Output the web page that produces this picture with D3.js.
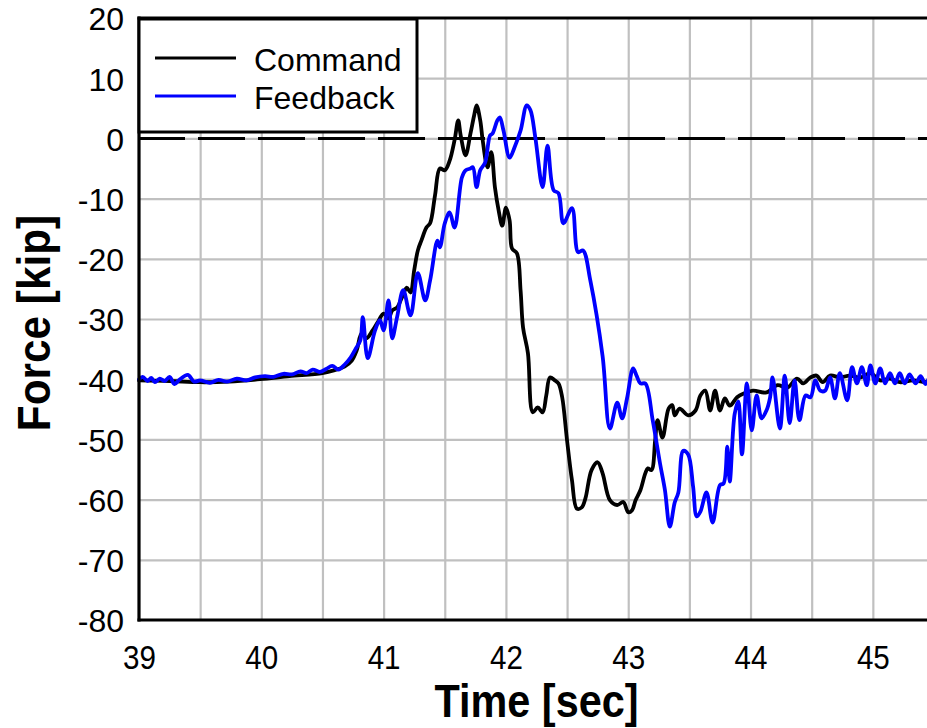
<!DOCTYPE html>
<html><head><meta charset="utf-8">
<script src="https://cdn.jsdelivr.net/npm/d3@7"></script>
<style>body{margin:0;background:#fff}svg{display:block}</style>
</head><body>
<svg id="chart" width="927" height="728"></svg>
<script>
// ---- data ----
const xTicks = [39, 40, 41, 42, 43, 44, 45];
const yTicks = [20, 10, 0, -10, -20, -30, -40, -50, -60, -70, -80];
const xGrid = [39.5, 40, 40.5, 41, 41.5, 42, 42.5, 43, 43.5, 44, 44.5, 45, 45.5];
const yGrid = [10, 0, -10, -20, -30, -40, -50, -60, -70];
const seriesNames = ["Command", "Feedback"];
const seriesColors = ["#000000", "#0000ff"];

const cmdTime = [39.00,39.25,39.50,39.74,39.99,40.23,40.50,40.60,40.68,40.74,40.78,40.82,40.86,40.91,40.95,41.00,41.04,41.07,41.11,41.15,41.19,41.22,41.25,41.28,41.31,41.35,41.38,41.42,41.46,41.50,41.54,41.58,41.61,41.63,41.67,41.71,41.74,41.76,41.79,41.81,41.85,41.88,41.91,41.94,41.97,42.00,42.03,42.05,42.09,42.12,42.14,42.18,42.22,42.26,42.30,42.33,42.36,42.40,42.43,42.46,42.50,42.54,42.58,42.62,42.65,42.70,42.75,42.79,42.85,42.91,42.96,43.00,43.03,43.06,43.10,43.14,43.16,43.19,43.22,43.24,43.28,43.33,43.36,43.38,43.42,43.49,43.55,43.59,43.63,43.67,43.71,43.75,43.79,43.83,43.89,43.94,44.02,44.13,44.22,44.30,44.38,44.43,44.49,44.54,44.59,44.65,44.73,44.81,44.90,44.98,45.06,45.14,45.22,45.33,45.44,45.50];
const cmdForce = [-40.2,-40.3,-40.5,-40.4,-40.0,-39.5,-39.0,-38.5,-37.9,-36.9,-35.2,-32.4,-33.2,-31.9,-30.6,-29.1,-29.9,-28.6,-28.1,-26.4,-24.8,-25.6,-21.9,-18.6,-16.9,-14.8,-14.1,-9.5,-5.0,-5.3,-3.7,-0.3,3.0,0.5,-2.8,0.8,3.8,5.5,3.0,-0.3,-4.8,-2.3,-8.1,-11.9,-14.5,-11.5,-13.6,-18.3,-19.1,-25.3,-31.4,-35.7,-45.5,-44.7,-45.5,-42.7,-39.7,-40.2,-40.7,-43.0,-50.2,-56.8,-61.5,-61.3,-59.8,-55.1,-53.8,-55.6,-60.1,-60.9,-60.4,-62.1,-61.8,-60.1,-58.4,-55.6,-54.8,-55.1,-50.2,-46.8,-49.7,-44.9,-44.3,-46.0,-44.9,-46.0,-45.2,-42.7,-41.9,-45.2,-41.9,-45.2,-43.2,-44.4,-43.0,-42.4,-41.9,-42.2,-41.0,-41.4,-39.9,-40.7,-39.7,-39.4,-40.5,-39.4,-39.7,-39.4,-39.7,-39.0,-40.2,-39.9,-40.5,-40.2,-40.5,-40.3];

const fbTime = [39.00,39.03,39.07,39.10,39.13,39.17,39.21,39.25,39.29,39.33,39.40,39.45,39.50,39.58,39.65,39.72,39.80,39.88,39.95,40.03,40.10,40.18,40.25,40.32,40.37,40.42,40.48,40.53,40.58,40.63,40.68,40.73,40.77,40.81,40.83,40.87,40.93,40.97,41.00,41.04,41.07,41.11,41.16,41.22,41.28,41.34,41.38,41.44,41.46,41.50,41.54,41.58,41.64,41.67,41.71,41.73,41.76,41.79,41.83,41.87,41.89,41.93,41.95,41.98,42.03,42.07,42.12,42.17,42.20,42.24,42.30,42.34,42.39,42.43,42.47,42.54,42.59,42.63,42.69,42.79,42.85,42.91,42.95,42.99,43.04,43.07,43.10,43.14,43.20,43.26,43.30,43.34,43.38,43.41,43.45,43.49,43.53,43.56,43.59,43.64,43.69,43.75,43.78,43.81,43.83,43.87,43.90,43.93,43.97,44.01,44.05,44.09,44.13,44.16,44.18,44.24,44.28,44.32,44.36,44.40,44.45,44.49,44.53,44.57,44.61,44.65,44.69,44.73,44.79,44.83,44.87,44.91,44.95,44.98,45.02,45.06,45.10,45.14,45.18,45.22,45.26,45.30,45.35,45.39,45.43,45.47,45.50];
const fbForce = [-40.0,-39.6,-40.3,-39.8,-40.5,-39.9,-40.3,-39.6,-40.8,-40.1,-39.3,-40.4,-40.2,-40.6,-40.1,-40.4,-39.9,-40.2,-39.7,-39.5,-39.6,-39.1,-39.2,-38.7,-39.0,-38.4,-38.8,-38.3,-37.8,-38.4,-37.6,-36.4,-35.0,-33.5,-29.7,-36.5,-31.9,-30.2,-31.9,-26.9,-33.2,-29.7,-25.2,-29.4,-22.4,-26.9,-23.6,-17.0,-18.1,-14.1,-12.3,-14.8,-6.5,-5.3,-5.0,-4.8,-8.1,-5.3,-4.0,0.5,0.8,3.0,3.5,1.3,-3.2,-1.5,1.3,5.5,4.7,0.2,-8.1,-1.2,-8.6,-9.1,-14.1,-11.6,-18.9,-18.6,-23.6,-36.1,-48.2,-43.9,-46.5,-43.2,-38.2,-39.5,-40.7,-40.7,-46.8,-54.0,-58.4,-64.5,-60.5,-58.8,-51.9,-52.5,-57.8,-62.8,-62.0,-58.8,-63.8,-57.6,-57.3,-51.2,-57.0,-45.8,-43.7,-52.5,-40.7,-48.5,-42.7,-46.5,-45.2,-43.0,-39.7,-48.2,-39.4,-47.3,-40.2,-46.8,-42.7,-43.0,-40.2,-41.9,-41.9,-39.7,-43.2,-39.0,-43.5,-38.0,-40.7,-38.0,-41.0,-37.7,-40.7,-38.2,-40.7,-39.0,-40.7,-39.0,-40.7,-39.2,-40.7,-39.5,-40.8,-39.6,-40.3];

// ---- layout ----
const W = 927, H = 728;
const L = 139, T = 18, R = 934, B = 620;
const svg = d3.select("#chart");
const x = d3.scaleLinear().domain([39, 45.5]).range([L, R]);
const y = d3.scaleLinear().domain([-80, 20]).range([B, T]);
const FONT = "'Liberation Sans', Arial, Helvetica, sans-serif";
const fmt = d => String(d);

// grid
const gx = svg.append("g").attr("transform", `translate(0,${B})`)
  .call(d3.axisBottom(x).tickValues(xGrid).tickSize(-(B - T)).tickFormat(""));
gx.select(".domain").remove();
gx.selectAll("line").attr("stroke", "#c0c0c0").attr("stroke-width", 2.2);
const gy = svg.append("g").attr("transform", `translate(${L},0)`)
  .call(d3.axisLeft(y).tickValues(yGrid).tickSize(-(R - L)).tickFormat(""));
gy.select(".domain").remove();
gy.selectAll("line").attr("stroke", "#c0c0c0").attr("stroke-width", 2.2);

// zero dashed line
svg.append("line")
  .attr("x1", x(39)).attr("x2", x(45.5)).attr("y1", y(0)).attr("y2", y(0))
  .attr("stroke", "#000").attr("stroke-width", 3)
  .attr("stroke-dasharray", "47,13").attr("stroke-dashoffset", 1);

// series
const line = d3.line().x(d => x(d[0])).y(d => y(d[1])).curve(d3.curveCatmullRom.alpha(0.5));
const series = [d3.zip(cmdTime, cmdForce), d3.zip(fbTime, fbForce)];
series.forEach((s, i) => {
  svg.append("path").datum(s).attr("d", line)
    .attr("fill", "none").attr("stroke", seriesColors[i])
    .attr("stroke-width", 3.8).attr("stroke-linejoin", "round").attr("stroke-linecap", "round");
});

// frame: left, bottom, top
svg.append("line").attr("x1", L).attr("x2", L).attr("y1", T - 1.5).attr("y2", B + 1.5).attr("stroke", "#000").attr("stroke-width", 3.2);
svg.append("line").attr("x1", L - 1.5).attr("x2", W).attr("y1", B).attr("y2", B).attr("stroke", "#000").attr("stroke-width", 3.2);
svg.append("line").attr("x1", L - 1.5).attr("x2", W).attr("y1", T).attr("y2", T).attr("stroke", "#000").attr("stroke-width", 3.2);

// x tick labels
const ax = svg.append("g").attr("transform", `translate(0,${B})`)
  .call(d3.axisBottom(x).tickValues(xTicks).tickSize(0).tickPadding(25).tickFormat(fmt));
ax.select(".domain").remove();
ax.selectAll("text").attr("font-family", FONT).attr("font-size", 34).attr("fill", "#000")
  .attr("dy", "0.71em").attr("transform", "scale(0.87,1)");

// y tick labels
const ay = svg.append("g").attr("transform", `translate(${L},0)`)
  .call(d3.axisLeft(y).tickValues(yTicks).tickSize(0).tickPadding(15).tickFormat(fmt));
ay.select(".domain").remove();
ay.selectAll("text").attr("font-family", FONT).attr("font-size", 32).attr("fill", "#000").attr("dy", "0.37em");

// axis titles
svg.append("text").attr("transform", `translate(${(L + R) / 2},717) scale(0.9,1)`)
  .attr("text-anchor", "middle").attr("font-family", FONT).attr("font-weight", "bold")
  .attr("font-size", 46).text("Time [sec]");
svg.append("text").attr("transform", `translate(50,323) rotate(-90) scale(0.92,1)`)
  .attr("text-anchor", "middle").attr("font-family", FONT).attr("font-weight", "bold")
  .attr("font-size", 46).text("Force [kip]");

// legend
const lg = svg.append("g");
lg.append("rect").attr("x", 139).attr("y", 19).attr("width", 278).attr("height", 113)
  .attr("fill", "#fff").attr("stroke", "#000").attr("stroke-width", 3);
seriesNames.forEach((n, i) => {
  const yy = 58 + i * 38;
  lg.append("line").attr("x1", 155).attr("x2", 236).attr("y1", yy).attr("y2", yy)
    .attr("stroke", seriesColors[i]).attr("stroke-width", 3);
  lg.append("text").attr("x", 254).attr("y", yy + 13).attr("font-family", FONT)
    .attr("font-size", 32).attr("fill", "#000").text(n);
});
</script>
</body></html>
